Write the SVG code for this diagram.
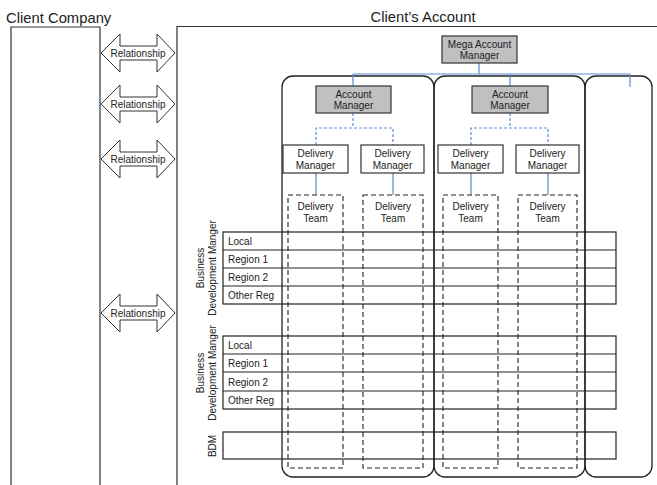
<svg xmlns="http://www.w3.org/2000/svg" width="657" height="485" viewBox="0 0 657 485">
<style>
text{font-family:"Liberation Sans",Arial,sans-serif;fill:#222}
.t9{font-size:10px}
.big{font-size:14.8px}
.ln{stroke:#333;stroke-width:1.2;fill:none}
.row{stroke:#222;stroke-width:1.2;fill:none}
.cont{stroke:#222;stroke-width:1.3;fill:none}
.gray{fill:#c0c0c0;stroke:#333;stroke-width:1.2}
.wbox{fill:#fff;stroke:#333;stroke-width:1.2}
.team{fill:none;stroke:#222;stroke-width:1.1;stroke-dasharray:5,3}
.blue{stroke:#5b8bd6;stroke-width:1.2;fill:none}
.bluedash{stroke:#5b8bd6;stroke-width:1.2;fill:none;stroke-dasharray:3,2}
.arrow{fill:#fff;stroke:#333;stroke-width:1}
</style>
<defs>
<path id="rel" d="M-37,0 L-18,-19 L-18,-7 L19,-7 L19,-19 L37,0 L19,19 L19,7 L-18,7 L-18,19 Z"/>
</defs>
<text class="big" x="6" y="23">Client Company</text>
<text class="big" x="423" y="22" text-anchor="middle">Client’s Account</text>
<g id="client-company">
<path class="ln" d="M11,485 V27 H100 V485"/>
</g>
<g id="clients-account">
<path class="ln" d="M177,485 V26.5 H657"/>
</g>
<g id="relationships">
<g id="rel1" transform="translate(138,53)"><use href="#rel" class="arrow"/><text class="t9" y="3.5" text-anchor="middle">Relationship</text></g>
<g id="rel2" transform="translate(138,104)"><use href="#rel" class="arrow"/><text class="t9" y="3.5" text-anchor="middle">Relationship</text></g>
<g id="rel3" transform="translate(138,159)"><use href="#rel" class="arrow"/><text class="t9" y="3.5" text-anchor="middle">Relationship</text></g>
<g id="rel4" transform="translate(138,313)"><use href="#rel" class="arrow"/><text class="t9" y="3.5" text-anchor="middle">Relationship</text></g>
</g>
<g id="bdm-rows">
<rect class="row" x="223" y="232" width="393" height="72"/>
<path class="row" d="M223,250 H616 M223,268 H616 M223,286 H616"/>
<text class="t9" x="228" y="245">Local</text>
<text class="t9" x="228" y="263">Region 1</text>
<text class="t9" x="228" y="281">Region 2</text>
<text class="t9" x="228" y="299">Other Reg</text>
<text class="t9" transform="translate(204,268) rotate(-90)" text-anchor="middle">Business</text>
<text class="t9" transform="translate(216,268) rotate(-90)" text-anchor="middle">Development Manger</text>
<rect class="row" x="223" y="336" width="393" height="73"/>
<path class="row" d="M223,354 H616 M223,372 H616 M223,391 H616"/>
<text class="t9" x="228" y="349">Local</text>
<text class="t9" x="228" y="367">Region 1</text>
<text class="t9" x="228" y="386">Region 2</text>
<text class="t9" x="228" y="404">Other Reg</text>
<text class="t9" transform="translate(204,373) rotate(-90)" text-anchor="middle">Business</text>
<text class="t9" transform="translate(216,373) rotate(-90)" text-anchor="middle">Development Manger</text>
<rect class="row" x="223" y="432" width="393" height="27"/>
<text class="t9" transform="translate(216,446) rotate(-90)" text-anchor="middle">BDM</text>
</g>
<g id="containers">
<rect class="cont" x="282" y="76" width="152" height="401" rx="11"/>
<rect class="cont" x="434" y="76" width="151" height="401" rx="11"/>
<rect class="cont" x="585" y="76" width="67" height="401" rx="11"/>
</g>
<g id="connectors">
<path class="blue" d="M479,63 V74 M353,74 H630 M353,74 V86 M510,74 V86 M630,74 V87"/>
<path class="bluedash" d="M353,113 V128 M316,145 V128 H393 V145 M510,113 V128 M471,145 V128 H548 V145"/>
<path class="blue" d="M316,173 V195 M393,173 V195 M471,173 V195 M548,173 V195"/>
</g>
<g id="mega-account-manager">
<rect class="gray" x="442" y="36" width="75" height="27"/>
<text class="t9" x="479.5" y="47.5" text-anchor="middle">Mega Account</text>
<text class="t9" x="479.5" y="59" text-anchor="middle">Manager</text>
</g>
<g id="account-manager-1">
<rect class="gray" x="316" y="86" width="75" height="27"/>
<text class="t9" x="353.5" y="97.5" text-anchor="middle">Account</text>
<text class="t9" x="353.5" y="109" text-anchor="middle">Manager</text>
</g>
<g id="account-manager-2">
<rect class="gray" x="472" y="86" width="76" height="27"/>
<text class="t9" x="510" y="97.5" text-anchor="middle">Account</text>
<text class="t9" x="510" y="109" text-anchor="middle">Manager</text>
</g>
<g id="delivery-manager-1">
<rect class="wbox" x="283" y="145" width="65" height="28"/>
<text class="t9" x="315.5" y="156.5" text-anchor="middle">Delivery</text>
<text class="t9" x="315.5" y="168.5" text-anchor="middle">Manager</text>
</g>
<g id="delivery-manager-2">
<rect class="wbox" x="361" y="145" width="63" height="28"/>
<text class="t9" x="392.5" y="156.5" text-anchor="middle">Delivery</text>
<text class="t9" x="392.5" y="168.5" text-anchor="middle">Manager</text>
</g>
<g id="delivery-manager-3">
<rect class="wbox" x="438" y="145" width="65" height="28"/>
<text class="t9" x="470.5" y="156.5" text-anchor="middle">Delivery</text>
<text class="t9" x="470.5" y="168.5" text-anchor="middle">Manager</text>
</g>
<g id="delivery-manager-4">
<rect class="wbox" x="516" y="145" width="63" height="28"/>
<text class="t9" x="547.5" y="156.5" text-anchor="middle">Delivery</text>
<text class="t9" x="547.5" y="168.5" text-anchor="middle">Manager</text>
</g>
<g id="delivery-team-1">
<rect class="team" x="288" y="195" width="55" height="273"/>
<text class="t9" x="315.5" y="210" text-anchor="middle">Delivery</text>
<text class="t9" x="315.5" y="222" text-anchor="middle">Team</text>
</g>
<g id="delivery-team-2">
<rect class="team" x="363" y="195" width="60" height="273"/>
<text class="t9" x="393" y="210" text-anchor="middle">Delivery</text>
<text class="t9" x="393" y="222" text-anchor="middle">Team</text>
</g>
<g id="delivery-team-3">
<rect class="team" x="443" y="195" width="55" height="273"/>
<text class="t9" x="470.5" y="210" text-anchor="middle">Delivery</text>
<text class="t9" x="470.5" y="222" text-anchor="middle">Team</text>
</g>
<g id="delivery-team-4">
<rect class="team" x="518" y="195" width="59" height="273"/>
<text class="t9" x="547.5" y="210" text-anchor="middle">Delivery</text>
<text class="t9" x="547.5" y="222" text-anchor="middle">Team</text>
</g>
</svg>
